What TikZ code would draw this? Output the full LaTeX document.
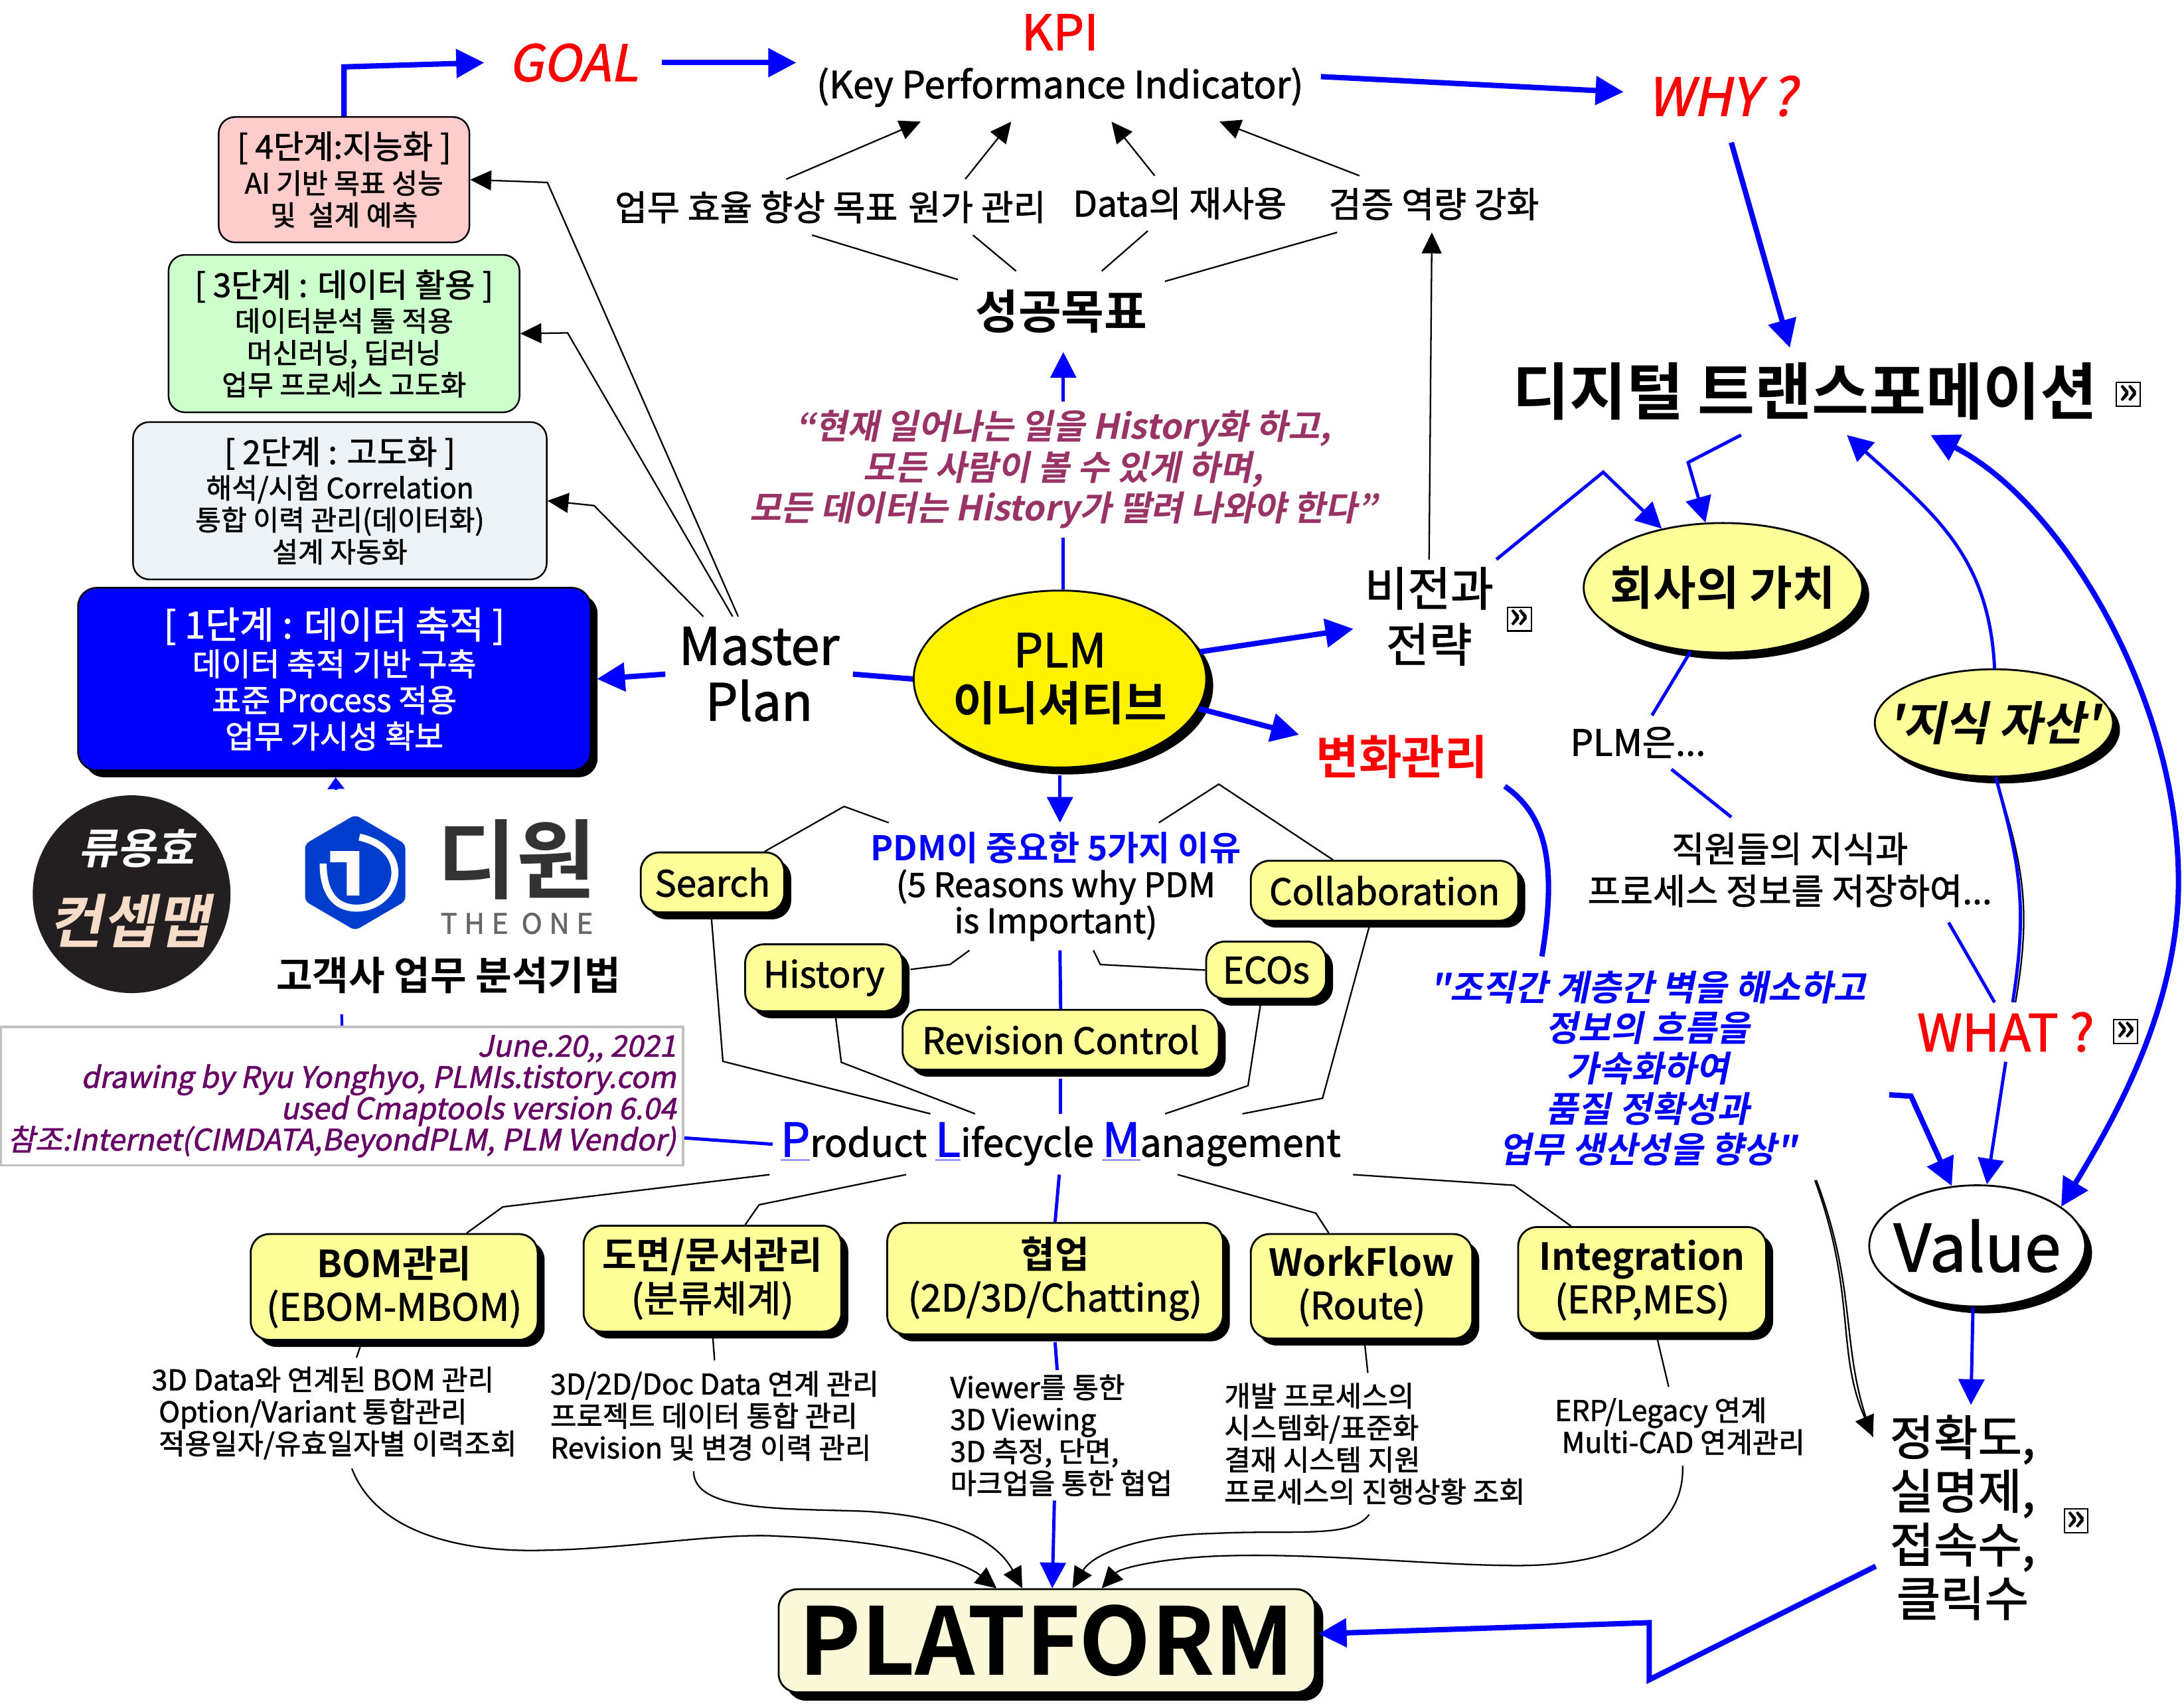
\documentclass[tikz,border=0pt]{standalone}
\usepackage{fontspec}
\defaultfontfeatures[\rmfamily]{}
\setmainfont{Noto Sans CJK KR}[
  BoldFont={Noto Sans CJK KR Bold}, ItalicFont={Noto Sans CJK KR}, BoldItalicFont={Noto Sans CJK KR Bold},
  UprightFeatures={FakeBold=1.5}, ItalicFeatures={FakeSlant=0.2,FakeBold=1.5}, BoldItalicFeatures={FakeSlant=0.2}]
\usetikzlibrary{arrows.meta, shapes.geometric, shadows}
\setlength{\lineskiplimit}{-30pt}
\setlength{\normallineskiplimit}{-30pt}
\newcommand{\un}{0.02098cm}
\newcommand{\fnt}[2]{\fontsize{#1}{#2}\selectfont}
\newcommand{\plmcap}[1]{{\color{blue}\fontsize{20}{22}\selectfont\underline{#1}}}
\definecolor{softyellow}{HTML}{FFFF99}
\definecolor{plum}{HTML}{993366}
\definecolor{infopurple}{HTML}{660066}

\begin{document}
\begin{tikzpicture}[x=\un, y=-\un, >=Stealth,
    lbl/.style={inner sep=0pt, align=center},
    sz/.style 2 args={minimum width=#1*\un, minimum height=#2*\un},
    shade5/.style={drop shadow={shadow xshift=5*\un, shadow yshift=-5*\un, opacity=1, fill=black}},
    card/.style={draw=black, line width=0.8pt, rounded corners=8pt, inner sep=0pt, align=center, fill=softyellow, shade5},
    stagebox/.style={draw=black, line width=0.7pt, rounded corners=7pt, inner sep=0pt, align=center, font=\fnt{12}{13.7}},
    egg/.style={ellipse, draw=black, line width=0.8pt, inner sep=-15pt, align=center, fill=softyellow, shade5},
    linkicon/.style={draw=black, fill=white, line width=0.6pt, inner sep=0pt, minimum size=17*\un, font=\fnt{16}{16}\bfseries},
    conn/.style={black, line width=0.65pt},
    connto/.style={conn, -{Triangle[length=9pt,width=8.5pt]}},
    blueline/.style={blue, line width=1.4pt},
    blueto/.style={blueline, -{Triangle[length=11pt,width=11pt]}},
    bluefat/.style={blue, line width=2.3pt},
    fatto/.style={bluefat, -{Triangle[length=12pt,width=12pt]}},
    subtxt/.style={lbl, align=left, font=\fnt{12.2}{13.7}},
  ]
  \path[use as bounding box] (0,0) rectangle (1568,1223);

  %% 왼쪽 단계
  \node[stagebox, sz={180}{90}, fill={rgb,255:red,255;green,204;blue,204}] (stage4) at (247,129)
    {{\fnt{14}{15}[ 4단계:지능화 ]}\\[1.3pt] AI 기반 목표 성능\\ 및 \ 설계 예측};
  \node[stagebox, sz={252}{113}, fill={rgb,255:red,204;green,255;blue,204}] (stage3) at (247,239.5)
    {{\fnt{14}{15}[ 3단계 : 데이터 활용 ]}\\[1pt] 데이터분석 툴 적용\\ 머신러닝, 딥러닝\\ 업무 프로세스 고도화};
  \node[stagebox, sz={297}{113}, fill={rgb,255:red,236;green,242;blue,245}] (stage2) at (244,359.5)
    {{\fnt{14}{15}[ 2단계 : 고도화 ]}\\[1pt] 해석/시험 Correlation\\ 통합 이력 관리(데이터화)\\ 설계 자동화};
  \node[stagebox, sz={368}{131}, fill=blue, text=white, rounded corners=8pt, shade5, font=\fnt{13.6}{15.5}] (stage1) at (240,487.5)
    {{\fnt{16}{16}[ 1단계 : 데이터 축적 ]}\\[0.5pt] 데이터 축적 기반 구축\\ 표준 Process 적용\\ 업무 가시성 확보};

  %% 위쪽 목표
  \node[lbl, sz={127}{40}, text=red, font=\fnt{21.5}{24}\itshape] (goal) at (411.5,45) {GOAL};
  \node[lbl, sz={378}{87}, font=\fnt{16}{20.6}] (kpi) at (761,43.5)
    {{\color{red}\fnt{21}{21}KPI}\\ (Key Performance Indicator)};
  \node[lbl, sz={140}{66}, text=red, font=\fnt{22.5}{24}\itshape] (why) at (1236,69) {WHY ?};
  \node[lbl, sz={204}{39.5}, font=\fnt{15.1}{18}] (aim1) at (543,148.7) {업무 효율 향상 목표};
  \node[lbl, sz={97}{39.5}, font=\fnt{15.1}{18}] (aim2) at (701.5,148.7) {원가 관리};
  \node[lbl, sz={158}{39}, font=\fnt{15.1}{18}] (aim3) at (847,146) {Data의 재사용};
  \node[lbl, sz={153}{40}, font=\fnt{15.1}{18}] (aim4) at (1029.5,146.5) {검증 역량 강화};
  \node[lbl, sz={148}{57.5}, font=\fnt{20}{24}\bfseries] (aimall) at (762,223.7) {성공목표};
  \node[lbl, sz={460}{97}, text=plum, font=\fnt{14.8}{17.5}\bfseries\itshape] (quote1) at (763.4,337)
    {“현재 일어나는 일을 History화 하고,\\ 모든 사람이 볼 수 있게 하며,\\ 모든 데이터는 History가 딸려 나와야 한다”};

  %% 가운데
  \node[egg, sz={210}{127}, fill=yellow, font=\fnt{20}{23}] (plm) at (761,487.5) {PLM\\ \textbf{이니셔티브}};
  \node[lbl, sz={134}{82}, font=\fnt{22}{24}] (master) at (545,484) {Master\\ Plan};
  \node[lbl, sz={108}{81}, font=\fnt{20}{24}] (vision) at (1026,442.5) {비전과\\ 전략};
  \node[lbl, sz={147}{43}, text=red, font=\fnt{20}{24}\bfseries] (change) at (1006.5,543.5) {변화관리};
  \node[lbl, sz={275}{91}, font=\fnt{14.4}{15.5}] (pdm) at (758,636.5)
    {{\color{blue}\fnt{14.6}{16}\bfseries PDM이 중요한 5가지 이유}\\ (5 Reasons why PDM\\ is Important)};
  \node[card, sz={103}{43}, font=\fnt{15.5}{18}] (search) at (511.5,633.5) {Search};
  \node[card, sz={113}{48}, font=\fnt{15.5}{18}] (history) at (591.5,702) {History};
  \node[card, sz={227}{43}, font=\fnt{15.5}{18}] (revision) at (761.5,746.5) {Revision Control};
  \node[card, sz={86}{41}, font=\fnt{15.5}{18}] (ecos) at (909,696.5) {ECOs};
  \node[card, sz={192}{43}, font=\fnt{15.5}{18}] (collab) at (994,639.5) {Collaboration};
  \node[lbl, sz={413}{43}, font=\fnt{16.2}{18}] (product) at (761.5,821.5)
    {\plmcap{P}roduct \plmcap{L}ifecycle \plmcap{M}anagement};

  %% 오른쪽
  \node[lbl, sz={422}{62}, font=\fnt{26.6}{30}\bfseries] (dt) at (1296,281) {디지털 트랜스포메이션};
  \node[egg, sz={200}{93}, font=\fnt{20}{24}\bfseries] (worth) at (1237,422) {회사의 가치};
  \node[egg, sz={171}{77}, font=\fnt{20}{24}\bfseries\itshape] (asset) at (1431.5,519) {'지식 자산'};
  \node[lbl, sz={112}{38}, font=\fnt{15.5}{18}] (plmis) at (1176,533) {PLM은...};
  \node[lbl, sz={308}{75}, font=\fnt{15.2}{18}] (staff) at (1285,624.5) {직원들의 지식과\\ 프로세스 정보를 저장하여...};
  \node[lbl, sz={129}{42}, text=red, font=\fnt{22}{24}] (what) at (1440,741) {WHAT ?};
  \node[lbl, sz={346}{160}, text=blue, font=\fnt{15.2}{17.4}\bfseries\itshape] (quote2) at (1183,767)
    {"조직간 계층간 벽을 해소하고\\ 정보의 흐름을\\ 가속화하여\\ 품질 정확성과\\ 업무 생산성을 향상"};
  \node[egg, sz={155}{87}, fill=white, font=\fnt{28}{30}] (value) at (1419.5,894.5) {Value};
  \node[lbl, sz={128}{161}, font=\fnt{20.5}{23}] (metric) at (1409,1089.5) {정확도,\\ 실명제,\\ 접속수,\\ 클릭수};

  %% 아래 상자
  \node[card, sz={206}{76}, font=\fnt{16}{18.5}] (bom) at (283,924) {\textbf{BOM관리}\\ (EBOM-MBOM)};
  \node[card, sz={185}{76}, font=\fnt{16}{18.5}] (doc) at (511.5,918) {\textbf{도면/문서관리}\\ (분류체계)};
  \node[card, sz={241}{80}, font=\fnt{16}{18.5}] (cowork) at (757.5,918) {\textbf{협업}\\ (2D/3D/Chatting)};
  \node[card, sz={159}{75}, font=\fnt{16}{18.5}] (flow) at (977.5,923.5) {\textbf{WorkFlow}\\ (Route)};
  \node[card, sz={178}{76}, font=\fnt{16}{18.5}] (integ) at (1179,919) {\textbf{Integration}\\ (ERP,MES)};
  \node[subtxt, sz={256}{79}] (bomtxt) at (240,1014.5)
    {3D Data와 연계된 BOM 관리\\ \hspace*{3pt}Option/Variant 통합관리\\ \hspace*{3pt}적용일자/유효일자별 이력조회};
  \node[subtxt, sz={242}{79}] (doctxt) at (513,1016.5)
    {3D/2D/Doc Data 연계 관리\\ 프로젝트 데이터 통합 관리\\ Revision 및 변경 이력 관리};
  \node[subtxt, sz={155}{93}] (viewtxt) at (762,1030.5)
    {Viewer를 통한\\ 3D Viewing\\ 3D 측정, 단면,\\ 마크업을 통한 협업};
  \node[subtxt, sz={210}{101}] (flowtxt) at (987,1036.5)
    {개발 프로세스의\\ 시스템화/표준화\\ 결재 시스템 지원\\ 프로세스의 진행상황 조회};
  \node[subtxt, sz={182}{56}] (integtxt) at (1206,1024)
    {ERP/Legacy 연계\\ \hspace*{3pt}Multi-CAD 연계관리};
  \node[card, sz={385}{74}, fill={rgb,255:red,250;green,248;blue,216}, font=\fnt{40}{44}\bfseries,
    drop shadow={shadow xshift=6*\un, shadow yshift=-6*\un, opacity=1, fill=black}] (platform) at (751.5,1178) {PLATFORM};

  %% 작성 정보
  \node[lbl, sz={490}{99.5}, draw={rgb,255:red,192;green,192;blue,192}, line width=1pt, fill=white,
    text=infopurple, align=right, font=\fnt{12.7}{13.4}\itshape] (info) at (245.5,787)
    {June.20,, 2021\\ drawing by Ryu Yonghyo, PLMIs.tistory.com\hspace*{3.5pt}\\ used Cmaptools version 6.04\\ 참조:Internet(CIMDATA,BeyondPLM, PLM Vendor)};

  %% 파란 선
  \draw[fatto] (stage4.north) -- (247,48) -- (goal.west);
  \draw[fatto] (goal.east) -- ([shift={(0,1.5)}]kpi.west);
  \draw[fatto] ([shift={(-2,11.5)}]kpi.east) -- ([shift={(0,-3)}]why.west);
  \draw[fatto] ([shift={(7,0)}]why.south) -- ([shift={(-11,0)}]dt.north);
  \draw[blueto] ([shift={(-46,0)}]dt.south) -- (1212,332) -- (worth.105);
  \draw[blueto] ([shift={(-6,0)}]vision.north east) -- (1151,339) -- (worth.136);
  \draw[fatto] (plm.11) -- ([shift={(0,9)}]vision.west);
  \draw[fatto] (plm.-12) -- ([shift={(0,-16)}]change.west);
  \draw[bluefat] (plm.west) -- (master.east);
  \draw[fatto] (master.west) -- ([shift={(4,0)}]stage1.east);
  \draw[blueline] ([shift={(2.4,0)}]plm.north) -- (quote1.south);
  \draw[blueto] (quote1.north) -- ([shift={(1.4,0)}]aimall.south);
  \draw[blueline] (worth.-117) -- ([shift={(10,0)}]plmis.north);
  \draw[blueline] ([shift={(24,0)}]plmis.south) -- ([shift={(-42,0)}]staff.north);
  \draw[blueline] ([shift={(114,0)}]staff.south) -- ([shift={(-8,0)}]what.north);
  \draw[blueto] ([shift={(0.5,0)}]asset.north) .. controls (1428,400) and (1390,370) .. ([shift={(30,0)}]dt.south);
  \draw[blue, line width=2.3pt, {Triangle[length=12pt,width=12pt]}-{Triangle[length=12pt,width=12pt]}]
    ([shift={(90,0)}]dt.south) .. controls (1480,360) and (1563,500) .. (1564,630)
    .. controls (1565,720) and (1520,800) .. (value.25);
  \draw[conn] (asset.-88) .. controls (1452,620) and (1459,650) .. ([shift={(7,0)}]what.north);
  \draw[blueline] (asset.-88) .. controls (1450,620) and (1456,650) .. ([shift={(5,0)}]what.north);
  \draw[blueto] (what.south) -- ([shift={(7,0)}]value.north);
  \draw[fatto] ([shift={(0,19)}]quote2.east) -- (1372,787) -- (value.113);
  \draw[bluefat] ([shift={(0,21)}]change.east) .. controls (1110,585) and (1118,620) .. ([shift={(-76,0)}]quote2.north);
  \draw[blueto] ([shift={(-3,0)}]value.south) -- ([shift={(6,0)}]metric.north);
  \draw[fatto] ([shift={(2,35)}]metric.west) -- (1184,1206) -- (1184,1165) -- ([shift={(2,-5)}]platform.east);
  \draw[blueto] ([shift={(0,5)}]plm.south) -- ([shift={(3,0)}]pdm.north);
  \draw[blueline] ([shift={(3,0)}]pdm.south) -- (revision.north);
  \draw[blueline] ([shift={(0,6)}]revision.south) -- (product.north);
  \draw[blueline] ([shift={(0,30)}]info.east) -- (product.west);
  \draw[blueline] ([shift={(-1,0)}]product.south) -- (cowork.north);
  \draw[blueline] ([shift={(0,5)}]cowork.south) -- ([shift={(-3,0)}]viewtxt.north);
  \draw[blueto] ([shift={(-5,0)}]viewtxt.south) -- ([shift={(4,0)}]platform.north);

  %% 검은 선
  \draw[connto] ([shift={(21.5,0)}]aim1.north) -- ([shift={(-100,0)}]kpi.south);
  \draw[connto] ([shift={(-8.5,0)}]aim2.north) -- ([shift={(-35,0)}]kpi.south);
  \draw[connto] ([shift={(-18,0)}]aim3.north) -- ([shift={(37,0)}]kpi.south);
  \draw[connto] ([shift={(-53.5,0)}]aim4.north) -- ([shift={(114.6,0)}]kpi.south);
  \draw[conn] ([shift={(0,-23)}]aimall.west) -- ([shift={(40,0)}]aim1.south);
  \draw[conn] ([shift={(-32.5,0)}]aimall.north) -- ([shift={(-3,0)}]aim2.south);
  \draw[conn] ([shift={(29,0)}]aimall.north) -- ([shift={(-23,0)}]aim3.south);
  \draw[conn] ([shift={(0,-21.7)}]aimall.east) -- ([shift={(-69.5,0)}]aim4.south);
  \draw[connto] (vision.north) -- ([shift={(-1.5,0)}]aim4.south);
  \draw[connto] ([shift={(-15,0)}]master.north) -- (393,131) -- (stage4.east);
  \draw[connto] ([shift={(-19,0)}]master.north) -- (407.5,239) -- (stage3.east);
  \draw[connto] ([shift={(-40,0)}]master.north) -- (426.5,363) -- (stage2.east);
  \draw[conn] ([shift={(37.5,0)}]search.north) -- (606,579) -- ([shift={(-120,0)}]pdm.north);
  \draw[conn] ([shift={(-37,0)}]collab.north) -- (875,563) -- ([shift={(74,0)}]pdm.north);
  \draw[conn] ([shift={(-62,0)}]pdm.south) -- (682,692.5) -- ([shift={(5,-6)}]history.east);
  \draw[conn] ([shift={(27,0)}]pdm.south) -- (790,692.5) -- (ecos.west);
  \draw[conn] ([shift={(-1,0)}]search.south) -- (519,762) -- ([shift={(-93.5,0)}]product.north);
  \draw[conn] ([shift={(8,0)}]history.south) -- (604,762.7) -- ([shift={(-61.5,0)}]product.north);
  \draw[conn] ([shift={(-3.5,0)}]ecos.south) -- (896,779.5) -- ([shift={(75,0)}]product.north);
  \draw[conn] ([shift={(-10,0)}]collab.south) -- (949.5,788.5) -- ([shift={(130.5,0)}]product.north);
  \draw[conn] ([shift={(-209,0)}]product.south) -- (361,866.5) -- ([shift={(52,0)}]bom.north);
  \draw[conn] ([shift={(-111,0)}]product.south) -- (545,865) -- ([shift={(23.5,0)}]doc.north);
  \draw[conn] ([shift={(84,0)}]product.south) -- (944.7,871) -- ([shift={(-23.5,0)}]flow.north);
  \draw[conn] ([shift={(210,0)}]product.south) -- (1087,851) -- ([shift={(-51,0)}]integ.north);
  \draw[conn] ([shift={(-23,0)}]bom.south) -- ([shift={(16,0)}]bomtxt.north);
  \draw[conn] (doc.south) -- (doctxt.north);
  \draw[conn] ([shift={(2,0)}]flow.south) -- ([shift={(-5,0)}]flowtxt.north);
  \draw[conn] ([shift={(10,0)}]integ.south) -- ([shift={(-8,0)}]integtxt.north);
  \draw[conn] ([shift={(121,0)}]quote2.south) .. controls (1335,930) and (1320,970) .. ([shift={(0,-58)}]metric.west);
  \draw[connto] ([shift={(120,0)}]quote2.south) .. controls (1333,930) and (1318,970) .. ([shift={(0,-58)}]metric.west);
  \draw[connto] ([shift={(12.6,0)}]bomtxt.south) .. controls (270,1100) and (330,1115) .. (392,1113)
    .. controls (450,1112) and (520,1100) .. (560,1103) .. controls (640,1106) and (690,1120) .. ([shift={(-36,0)}]platform.north);
  \draw[connto] ([shift={(-15,0)}]doctxt.south) .. controls (498,1085) and (560,1083) .. (620,1085)
    .. controls (680,1088) and (715,1105) .. ([shift={(-17.5,0)}]platform.north);
  \draw[connto] ([shift={(-4,0)}]flowtxt.south) .. controls (970,1105) and (930,1098) .. (870,1101)
    .. controls (820,1102) and (785,1115) .. ([shift={(18.5,0)}]platform.north);
  \draw[connto] ([shift={(2,0)}]integtxt.south) .. controls (1210,1100) and (1160,1124) .. (1090,1124)
    .. controls (1030,1124) and (950,1115) .. (880,1117) .. controls (840,1118) and (805,1125) .. ([shift={(39.5,0)}]platform.north);

  %% 로고 자리
  \draw[blue, line width=1.2pt, -{Triangle[length=5pt,width=7pt]}] (info.north) -- ([shift={(1,4.5)}]stage1.south);
  \fill[white] (190,567) rectangle (450,728);
  \node[circle, fill={rgb,255:red,35;green,31;blue,32}, minimum size=142*\un, inner sep=0pt] (logo) at (94.5,642) {};
  \node[lbl, text=white, font=\fnt{18}{20}\bfseries\itshape] (logoname) at (98,609) {류용효};
  \node[lbl, text={rgb,255:red,245;green,220;blue,200}, font=\fnt{25}{26}\bfseries\itshape] (logomap) at (93,661) {컨셉맵};
  \fill[blue!70!cyan!80!black, rounded corners=2pt] (255,585) -- (291,606) -- (291,647) -- (255,668) -- (219,647) -- (219,606) -- cycle;
  \draw[white, line width=3pt] (258,601) .. controls (298,610) and (286,652) .. (256,652)
    .. controls (240,652) and (232,640) .. (232,620);
  \fill[white] (249,611) rectangle (258,643) (237,611) rectangle (249,619);
  \node[lbl, text={rgb,255:red,51;green,51;blue,51}, font=\fnt{37}{38}\bfseries] (oneko) at (371,617) {디원};
  \node[lbl, text=black!60, font=\fnt{12}{14}\addfontfeature{LetterSpace=25}] (oneen) at (371,663) {THE ONE};
  \node[lbl, sz={248}{30}, font=\fnt{16.9}{20}\bfseries] (method) at (322,700) {고객사 업무 분석기법};

  %% 링크 표시
  \node[linkicon] (dtlink) at (1528,283) {»};
  \node[linkicon] (visionlink) at (1090.8,444.5) {»};
  \node[linkicon] (whatlink) at (1526,740.5) {»};
  \node[linkicon] (metriclink) at (1490.5,1092) {»};

\end{tikzpicture}
\end{document}
